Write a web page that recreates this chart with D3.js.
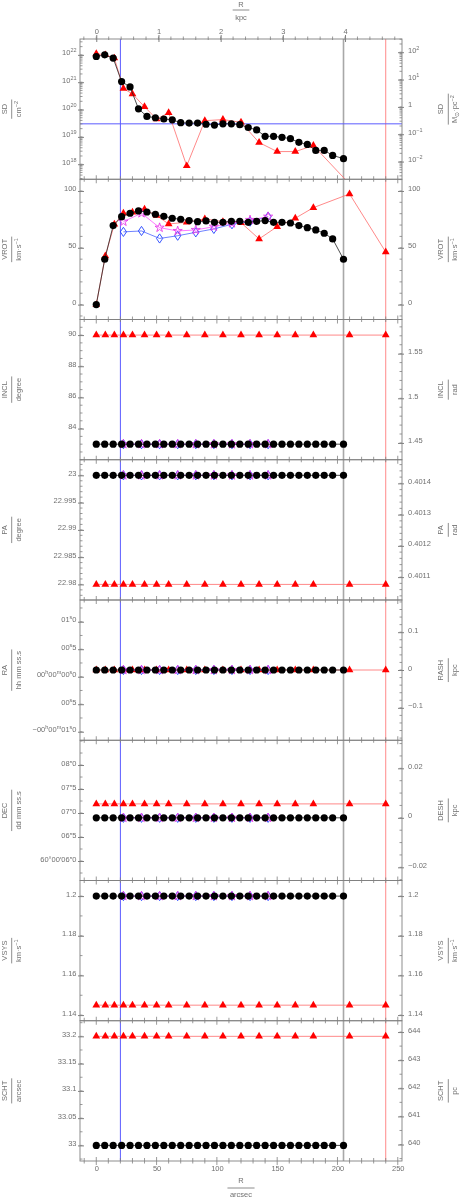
<!DOCTYPE html>
<html>
<head>
<meta charset="utf-8">
<script src="https://cdn.jsdelivr.net/npm/d3@7"></script>
<style>
  body { margin: 0; background: #fff; }
  svg { display: block; will-change: transform; }
  text { font-family: "Liberation Sans", Arial, sans-serif; font-size: 7.5px; fill: #707070; }
</style>
</head>
<body>
<div id="chart"></div>
<script>
// radii (arcsec) of the three sets of rings
const rDisk = [0, 7, 14, 21, 28, 35, 42, 49, 56, 63, 70, 77, 84, 91, 98, 105, 112, 119, 126, 133,
  140, 147, 154, 161, 168, 175, 182, 189, 196, 205];
const rInput = [0, 7.5, 15, 22.5, 30, 40, 50, 60, 75, 90, 105, 120, 135, 150, 165, 180, 210, 240];
const rFit = [22.5, 37.5, 52.5, 67.5, 82.5, 97.5, 112.5, 127.5, 142.5];

// reference radii (vertical lines) and SD level (horizontal line)
const refRadii = [20, 205, 240];
const sdLevel = 3e19;

// surface density, cm^-2
const sdDisk = [8.7e21, 1.0e22, 7.6e21, 1.05e21, 6.7e20, 1.06e20, 5.6e19, 5.0e19, 4.5e19, 4.2e19,
  3.3e19, 3.2e19, 3.2e19, 2.9e19, 2.7e19, 3.0e19, 3.0e19, 2.8e19, 2.2e19, 1.8e19,
  1.05e19, 1.05e19, 9.6e18, 8.6e18, 6.3e18, 5.3e18, 3.2e18, 3.2e18, 2.1e18, 1.6e18];
const sdInput = [1.1e22, 1.0e22, 7.6e21, 5.9e20, 3.7e20, 1.26e20, 4.5e19, 7.6e19, 8.7e17, 3.9e19,
  4.3e19, 3.4e19, 6.2e18, 2.9e18, 2.9e18, 4.8e18, 1.9e17, 1.0e17];

// rotation velocity, km/s
const vrotDisk = [0, 39.9, 69.5, 77.4, 80.4, 82.4, 81.5, 79.5, 77.7, 76.0,
  75.1, 73.9, 73.0, 73.6, 72.4, 72.4, 73.3, 73.3, 72.4, 73.3,
  73.9, 72.4, 72.4, 71.8, 69.5, 67.7, 65.7, 62.8, 57.8, 39.9];
const vrotInput = [0, 42.8, 70.7, 80.4, 81.2, 83.9, 78.3, 71.0, 72.4, 75.4, 73.0, 72.1, 57.8, 68.6,
  76.0, 85.3, 97.4, 46.3];
const vrotFitA = [64.0, 64.8, 58.2, 60.6, 63.6, 66.6, 70.7, 73.0, 77.4];
const vrotFitB = [73.0, 80.4, 67.7, 64.8, 65.7, 68.6, 71.6, 74.5, 77.4];

// inclination, degree
const inclDisk = [83, 83, 83, 83, 83, 83, 83, 83, 83, 83, 83, 83, 83, 83, 83, 83, 83, 83, 83, 83,
  83, 83, 83, 83, 83, 83, 83, 83, 83, 83];
const inclInput = [90, 90, 90, 90, 90, 90, 90, 90, 90, 90, 90, 90, 90, 90, 90, 90, 90, 90];
const inclFit = [83, 83, 83, 83, 83, 83, 83, 83, 83];

// position angle, degree
const paDisk = [23, 23, 23, 23, 23, 23, 23, 23, 23, 23, 23, 23, 23, 23, 23, 23, 23, 23, 23, 23,
  23, 23, 23, 23, 23, 23, 23, 23, 23, 23];
const paInput = [22.98, 22.98, 22.98, 22.98, 22.98, 22.98, 22.98, 22.98, 22.98, 22.98, 22.98, 22.98,
  22.98, 22.98, 22.98, 22.98, 22.98, 22.98];
const paFit = [23, 23, 23, 23, 23, 23, 23, 23, 23];

// right ascension, seconds of time past 00h00m00s
const raDisk = [0.122, 0.122, 0.122, 0.122, 0.122, 0.122, 0.122, 0.122, 0.122, 0.122,
  0.122, 0.122, 0.122, 0.122, 0.122, 0.122, 0.122, 0.122, 0.122, 0.122,
  0.122, 0.122, 0.122, 0.122, 0.122, 0.122, 0.122, 0.122, 0.122, 0.122];
const raInput = [0.122, 0.122, 0.122, 0.122, 0.122, 0.122, 0.122, 0.122, 0.122, 0.122, 0.122, 0.122,
  0.122, 0.122, 0.122, 0.122, 0.122, 0.122];
const raFit = [0.122, 0.122, 0.122, 0.122, 0.122, 0.122, 0.122, 0.122, 0.122];

// declination, arcsec past 60d00m00s
const decDisk = [6.9, 6.9, 6.9, 6.9, 6.9, 6.9, 6.9, 6.9, 6.9, 6.9, 6.9, 6.9, 6.9, 6.9, 6.9,
  6.9, 6.9, 6.9, 6.9, 6.9, 6.9, 6.9, 6.9, 6.9, 6.9, 6.9, 6.9, 6.9, 6.9, 6.9];
const decInput = [7.19, 7.19, 7.19, 7.19, 7.19, 7.19, 7.19, 7.19, 7.19, 7.19, 7.19, 7.19,
  7.19, 7.19, 7.19, 7.19, 7.19, 7.19];
const decFit = [6.9, 6.9, 6.9, 6.9, 6.9, 6.9, 6.9, 6.9, 6.9];

// systemic velocity, km/s
const vsysDisk = [1.2, 1.2, 1.2, 1.2, 1.2, 1.2, 1.2, 1.2, 1.2, 1.2, 1.2, 1.2, 1.2, 1.2, 1.2,
  1.2, 1.2, 1.2, 1.2, 1.2, 1.2, 1.2, 1.2, 1.2, 1.2, 1.2, 1.2, 1.2, 1.2, 1.2];
const vsysInput = [1.145, 1.145, 1.145, 1.145, 1.145, 1.145, 1.145, 1.145, 1.145, 1.145, 1.145, 1.145,
  1.145, 1.145, 1.145, 1.145, 1.145, 1.145];
const vsysFit = [1.2, 1.2, 1.2, 1.2, 1.2, 1.2, 1.2, 1.2, 1.2];

// scale height, arcsec
const schtDisk = [33, 33, 33, 33, 33, 33, 33, 33, 33, 33, 33, 33, 33, 33, 33, 33, 33, 33, 33, 33,
  33, 33, 33, 33, 33, 33, 33, 33, 33, 33];
const schtInput = [33.2, 33.2, 33.2, 33.2, 33.2, 33.2, 33.2, 33.2, 33.2, 33.2, 33.2, 33.2,
  33.2, 33.2, 33.2, 33.2, 33.2, 33.2];

// tick values and labels
const kpcTicks = [0, 1, 2, 3, 4];
const arcsecTicks = [0, 50, 100, 150, 200, 250];
const sdTicks = [1e18, 1e19, 1e20, 1e21, 1e22];
const sdLabels = ["10^{18}", "10^{19}", "10^{20}", "10^{21}", "10^{22}"];
const sdRTicks = [0.01, 0.1, 1, 10, 100];
const sdRLabels = ["10^{−2}", "10^{−1}", "1", "10^{1}", "10^{2}"];
const vrotTicks = [0, 50, 100];
const inclTicks = [84, 86, 88, 90];
const inclRTicks = [1.45, 1.5, 1.55];
const paTicks = [22.98, 22.985, 22.99, 22.995, 23];
const paRTicks = [0.4011, 0.4012, 0.4013, 0.4014];
const raTicks = [-1, -0.5, 0, 0.5, 1];
const raLabels = ["−00^{h}00^{m}01^{s}0", "00^{s}5", "00^{h}00^{m}00^{s}0", "00^{s}5", "01^{s}0"];
const raRTicks = [-0.1, 0, 0.1];
const raRLabels = ["−0.1", "0", "0.1"];
const decTicks = [6, 6.5, 7, 7.5, 8];
const decLabels = ["60°00′06″0", "06″5", "07″0", "07″5", "08″0"];
const decRTicks = [-0.02, 0, 0.02];
const decRLabels = ["−0.02", "0", "0.02"];
const vsysTicks = [1.14, 1.16, 1.18, 1.2];
const schtTicks = [33, 33.05, 33.1, 33.15, 33.2];
const schtRTicks = [640, 641, 642, 643, 644];

// geometry
const W = 463, H = 1199;
const X0 = 80, X1 = 402, TOP = 39, PH = 140.25;
const KPC_PER_ARCSEC = 0.019393;
const FRAME = "#808080";

const x = d3.scaleLinear().domain([-13.5, 253.5]).range([X0, X1]);
const xKpc = d3.scaleLinear().domain(x.domain().map(v => v * KPC_PER_ARCSEC)).range([X0, X1]);

// pad a range by 1/7 of the data span on both sides
function padded(...arrs) {
  const lo = d3.min(arrs, a => d3.min(a)), hi = d3.max(arrs, a => d3.max(a));
  const s = (hi - lo) / 7;
  return [lo - s, hi + s];
}
function linMinor(step) {
  return dom => {
    const lo = Math.min(...dom), hi = Math.max(...dom), out = [];
    for (let k = Math.ceil(lo / step - 1e-9); k <= Math.floor(hi / step + 1e-9); k++) out.push(k * step);
    return out;
  };
}
function logMinor(dom) {
  const out = [];
  const a = Math.floor(Math.log10(dom[0])), b = Math.ceil(Math.log10(dom[1]));
  for (let e = a; e <= b; e++) for (let m = 1; m < 10; m++) {
    const v = m * Math.pow(10, e);
    if (v >= dom[0] && v <= dom[1]) out.push(v);
  }
  return out;
}
const fmt = d => String(+d.toFixed(6));
const deg2rad = v => v * Math.PI / 180;

const panels = [
  { name: "SD", unit: "cm^{−2}", rname: "SD", runit: "M_{⊙}·pc^{−2}", log: true,
    domain: [Math.pow(10, 17.45), Math.pow(10, 22.58)], conv: v => v / 1.249e20,
    ticks: sdTicks, labels: sdLabels, rticks: sdRTicks, rlabels: sdRLabels,
    minor: logMinor, rminor: logMinor,
    input: sdInput, disk: sdDisk },
  { name: "VROT", unit: "km·s^{−1}", rname: "VROT", runit: "km·s^{−1}",
    domain: [-13.1, 110.3], conv: v => v,
    ticks: vrotTicks, rticks: vrotTicks, minor: linMinor(10), rminor: linMinor(10),
    input: vrotInput, fitA: vrotFitA, fitB: vrotFitB, disk: vrotDisk },
  { name: "INCL", unit: "degree", rname: "INCL", runit: "rad",
    domain: padded(inclDisk, inclInput), conv: deg2rad,
    ticks: inclTicks, rticks: inclRTicks, minor: linMinor(0.5), rminor: linMinor(0.01),
    input: inclInput, fitA: inclFit, fitB: inclFit, disk: inclDisk },
  { name: "PA", unit: "degree", rname: "PA", runit: "rad",
    domain: padded(paDisk, paInput), conv: deg2rad,
    ticks: paTicks, rticks: paRTicks, minor: linMinor(0.001), rminor: linMinor(0.00002),
    input: paInput, fitA: paFit, fitB: paFit, disk: paDisk },
  { name: "RA", unit: "hh mm ss.s", rname: "RASH", runit: "kpc",
    domain: [-1.155, 1.395], conv: v => (v - raDisk[0]) * 15 * Math.cos(Math.PI / 3) * KPC_PER_ARCSEC,
    ticks: raTicks, labels: raLabels, rticks: raRTicks, rlabels: raRLabels,
    minor: linMinor(0.25), rminor: linMinor(0.02),
    input: raInput, fitA: raFit, fitB: raFit, disk: raDisk },
  { name: "DEC", unit: "dd mm ss.s", rname: "DESH", runit: "kpc",
    domain: [5.594, 8.516], conv: v => (v - decDisk[0]) * KPC_PER_ARCSEC,
    ticks: decTicks, labels: decLabels, rticks: decRTicks, rlabels: decRLabels,
    minor: linMinor(0.25), rminor: linMinor(0.005),
    input: decInput, fitA: decFit, fitB: decFit, disk: decDisk },
  { name: "VSYS", unit: "km·s^{−1}", rname: "VSYS", runit: "km·s^{−1}",
    domain: padded(vsysDisk, vsysInput), conv: v => v,
    ticks: vsysTicks, rticks: vsysTicks, minor: linMinor(0.01), rminor: linMinor(0.01),
    input: vsysInput, fitA: vsysFit, fitB: vsysFit, disk: vsysDisk },
  { name: "SCHT", unit: "arcsec", rname: "SCHT", runit: "pc",
    domain: padded(schtDisk, schtInput), conv: v => v * KPC_PER_ARCSEC * 1000,
    ticks: schtTicks, rticks: schtRTicks, minor: linMinor(0.025), rminor: linMinor(0.5),
    input: schtInput, disk: schtDisk }
];

// text with ^{sup} and _{sub} pieces
function rich(sel, str) {
  sel.text(null);
  const parts = str.split(/(\^\{[^}]*\}|_\{[^}]*\})/).filter(s => s);
  let shift = 0;
  parts.forEach(p => {
    if (p.startsWith("^{") || p.startsWith("_{")) {
      const d = p[0] === "^" ? -3 : 2;
      sel.append("tspan").attr("dy", d - shift).style("font-size", "5.5px").text(p.slice(2, -1));
      shift = d;
    } else {
      sel.append("tspan").attr("dy", -shift).text(p);
      shift = 0;
    }
  });
}

const svg = d3.select("#chart").append("svg").attr("width", W).attr("height", H);
svg.append("rect").attr("width", W).attr("height", H).attr("fill", "#fff");

function fraction(cx, cy, num, den, nb, db) {
  const g = svg.append("g").attr("transform", `translate(${cx},${cy}) rotate(-90)`);
  const t1 = g.append("text").attr("text-anchor", "middle").attr("y", nb);
  rich(t1, num);
  const t2 = g.append("text").attr("text-anchor", "middle").attr("y", db);
  rich(t2, den);
  const L = Math.max(t1.node().getComputedTextLength(), t2.node().getComputedTextLength()) + 3;
  g.append("line").attr("x1", -L / 2).attr("x2", L / 2).attr("stroke", "#707070").attr("stroke-width", 0.8);
}

const yBottom = TOP + PH * panels.length;

// vertical reference lines through all panels
const refColors = ["#5b5bff", "#a8a8a8", "#ff8a8a"];
const refWidths = [1, 1.6, 1];
svg.append("g").selectAll("line").data(refRadii).join("line")
  .attr("x1", d => x(d)).attr("x2", d => x(d))
  .attr("y1", TOP).attr("y2", yBottom)
  .attr("stroke", (d, i) => refColors[i]).attr("stroke-width", (d, i) => refWidths[i]);

const triangle = d3.symbol(d3.symbolTriangle, 26);
const star = d3.symbol(d3.symbolStar, 26);
const diamond = "M0,-4.6L3.1,0L0,4.6L-3.1,0Z";

panels.forEach((p, i) => {
  const y0 = TOP + i * PH, y1 = y0 + PH;
  const mk = () => (p.log ? d3.scaleLog() : d3.scaleLinear());
  const y = mk().domain(p.domain).range([y1, y0]);
  const yr = mk().domain(p.domain.map(p.conv)).range([y1, y0]);

  svg.append("clipPath").attr("id", "clip" + i)
    .append("rect").attr("x", X0).attr("y", y0).attr("width", X1 - X0).attr("height", PH);
  const g = svg.append("g").attr("clip-path", `url(#clip${i})`);

  if (i === 0) {
    g.append("line").attr("x1", X0).attr("x2", X1).attr("y1", y(sdLevel)).attr("y2", y(sdLevel))
      .attr("stroke", "#5b5bff").attr("stroke-width", 1);
  }

  const line = r => d3.line().x((d, j) => x(r[j])).y(d => y(d));

  // input model (red)
  g.append("path").datum(p.input).attr("d", line(rInput)).attr("fill", "none")
    .attr("stroke", "#ff6b6b").attr("stroke-width", 0.8);
  g.selectAll(".tri").data(p.input).join("path").attr("class", "tri")
    .attr("d", triangle).attr("transform", (d, j) => `translate(${x(rInput[j])},${y(d)})`)
    .attr("fill", "#ff0000");

  if (p.fitA) {
    g.append("path").datum(p.fitA).attr("d", line(rFit)).attr("fill", "none")
      .attr("stroke", "#4a62ff").attr("stroke-width", 0.8);
    g.selectAll(".dia").data(p.fitA).join("path").attr("class", "dia")
      .attr("d", diamond).attr("transform", (d, j) => `translate(${x(rFit[j])},${y(d)})`)
      .attr("fill", "none").attr("stroke", "#2244ff").attr("stroke-width", 0.9);
  }
  if (p.fitB) {
    g.append("path").datum(p.fitB).attr("d", line(rFit)).attr("fill", "none")
      .attr("stroke", "#ff55ff").attr("stroke-width", 0.8);
    g.selectAll(".star").data(p.fitB).join("path").attr("class", "star")
      .attr("d", star).attr("transform", (d, j) => `translate(${x(rFit[j])},${y(d)})`)
      .attr("fill", "none").attr("stroke", "#e83ce8").attr("stroke-width", 0.9);
  }

  // disk (black)
  g.append("path").datum(p.disk).attr("d", line(rDisk)).attr("fill", "none")
    .attr("stroke", "#222").attr("stroke-width", 0.8);
  g.selectAll("circle").data(p.disk).join("circle")
    .attr("cx", (d, j) => x(rDisk[j])).attr("cy", d => y(d)).attr("r", 3.6).attr("fill", "#000");

  // frame
  svg.append("rect").attr("x", X0).attr("y", y0).attr("width", X1 - X0).attr("height", PH)
    .attr("fill", "none").attr("stroke", FRAME).attr("stroke-width", 0.9);

  // left axis
  const ax = svg.append("g").attr("transform", `translate(${X0},0)`).attr("color", FRAME)
    .call(d3.axisLeft(y).tickValues(p.ticks).tickSizeInner(-4).tickSizeOuter(0).tickPadding(3.5)
      .tickFormat(fmt));
  ax.select(".domain").remove();
  ax.selectAll(".tick").append("line").attr("x2", -2).attr("stroke", "currentColor");
  ax.selectAll(".tick text").each(function (d, j) {
    rich(d3.select(this), p.labels ? p.labels[j] : fmt(d));
  });
  svg.append("g").selectAll("line").data(p.minor(y.domain())).join("line")
    .attr("x1", X0).attr("x2", X0 + 2.5).attr("y1", d => y(d)).attr("y2", d => y(d))
    .attr("stroke", FRAME).attr("stroke-width", 0.8);

  // right axis
  const ar = svg.append("g").attr("transform", `translate(${X1},0)`).attr("color", FRAME)
    .call(d3.axisRight(yr).tickValues(p.rticks).tickSizeInner(-4).tickSizeOuter(0).tickPadding(6)
      .tickFormat(fmt));
  ar.select(".domain").remove();
  ar.selectAll(".tick").append("line").attr("x2", 2).attr("stroke", "currentColor");
  ar.selectAll(".tick text").each(function (d, j) {
    rich(d3.select(this), p.rlabels ? p.rlabels[j] : fmt(d));
  });
  svg.append("g").selectAll("line").data(p.rminor(yr.domain())).join("line")
    .attr("x1", X1 - 2.5).attr("x2", X1).attr("y1", d => yr(d)).attr("y2", d => yr(d))
    .attr("stroke", FRAME).attr("stroke-width", 0.8);

  // arcsec ticks along the bottom edge of the panel
  const bt = linMinor(10)(x.domain());
  svg.append("g").selectAll("line").data(bt).join("line")
    .attr("x1", d => x(d)).attr("x2", d => x(d))
    .attr("y1", d => y1 - (d % 50 === 0 ? 4 : 3)).attr("y2", d => y1 + (d % 50 === 0 ? 4 : 2.5))
    .attr("stroke", FRAME).attr("stroke-width", 0.8);

  fraction(11.7, (y0 + y1) / 2, p.name, p.unit, -4.4, 9.8);
  fraction(448.3, (y0 + y1) / 2, p.rname, p.runit, -5, 9.2);
});

// top kpc axis
const topAxis = svg.append("g").attr("transform", `translate(0,${TOP})`).attr("color", FRAME)
  .call(d3.axisTop(xKpc).tickValues(kpcTicks).tickSizeInner(4).tickSizeOuter(0).tickPadding(1.5)
    .tickFormat(fmt));
topAxis.select(".domain").remove();
topAxis.selectAll(".tick").append("line").attr("y2", 3).attr("stroke", "currentColor");
svg.append("g").selectAll("line").data(linMinor(0.2)(xKpc.domain())).join("line")
  .attr("x1", d => xKpc(d)).attr("x2", d => xKpc(d)).attr("y1", TOP - 2.5).attr("y2", TOP + 1)
  .attr("stroke", FRAME).attr("stroke-width", 0.8);

// bottom arcsec labels
const botAxis = svg.append("g").attr("transform", `translate(0,${yBottom})`).attr("color", FRAME)
  .call(d3.axisBottom(x).tickValues(arcsecTicks).tickSize(0).tickPadding(5).tickFormat(fmt));
botAxis.select(".domain").remove();

// axis titles
const xMid = (X0 + X1) / 2;
function hTitle(yNum, yLine, yDen, num, den) {
  const t1 = svg.append("text").attr("x", xMid).attr("y", yNum).attr("text-anchor", "middle").text(num);
  const t2 = svg.append("text").attr("x", xMid).attr("y", yDen).attr("text-anchor", "middle").text(den);
  const L = Math.max(t1.node().getComputedTextLength(), t2.node().getComputedTextLength()) + 5;
  svg.append("line").attr("x1", xMid - L / 2).attr("x2", xMid + L / 2).attr("y1", yLine).attr("y2", yLine)
    .attr("stroke", "#707070").attr("stroke-width", 0.8);
}
hTitle(6.8, 10, 20.2, "R", "kpc");
hTitle(1183, 1188, 1197, "R", "arcsec");
</script>
</body>
</html>
